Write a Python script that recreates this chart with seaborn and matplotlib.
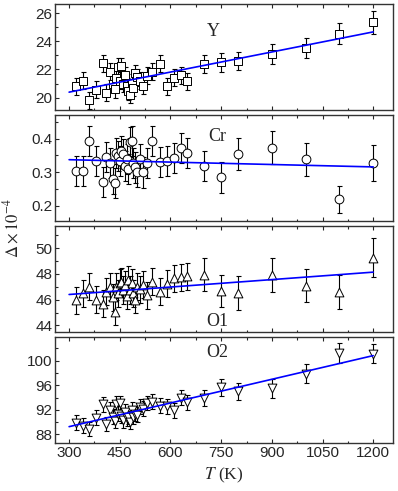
import matplotlib
matplotlib.use("Agg")
import matplotlib.pyplot as plt
import numpy as np
import seaborn as sns
from matplotlib.ticker import MultipleLocator

# temperatures (K), shared by all four panels
temp = [320, 340, 360, 380, 400, 410, 420, 430, 435, 440, 445, 450, 455, 460,
        465, 470, 475, 480, 485, 490, 495, 500, 510, 520, 530, 545, 570, 590,
        610, 630, 650, 700, 750, 800, 900, 1000, 1100, 1200]

y_vals = [20.8, 21.2, 19.8, 20.55, 22.45, 20.35, 21.85, 21.0, 20.6, 21.4,
          22.2, 21.2, 22.25, 21.0, 21.6, 20.8, 20.45, 20.2, 21.05, 20.7,
          21.75, 21.45, 21.2, 20.85, 21.55, 21.85, 22.4, 20.8, 21.4, 21.6,
          21.15, 22.4, 22.5, 22.6, 23.1, 23.55, 24.55, 25.35]
y_err = [0.6] * 31 + [0.65, 0.65, 0.65, 0.7, 0.7, 0.75, 0.8]

cr_vals = [0.304, 0.304, 0.392, 0.334, 0.270, 0.346, 0.328, 0.279, 0.268,
           0.358, 0.348, 0.333, 0.363, 0.353, 0.318, 0.338, 0.309, 0.389,
           0.392, 0.328, 0.314, 0.300, 0.338, 0.299, 0.328, 0.392, 0.330,
           0.333, 0.343, 0.373, 0.358, 0.318, 0.284, 0.353, 0.373, 0.338,
           0.219, 0.328]
cr_err = [0.045] * 31 + [0.045, 0.045, 0.048, 0.05, 0.05, 0.04, 0.054]

o1_vals = [45.95, 46.5, 47.0, 46.0, 45.7, 46.6, 47.0, 46.2, 45.05, 47.0,
           46.5, 47.3, 47.4, 46.75, 47.15, 46.3, 47.55, 46.75, 47.3, 46.5,
           46.0, 47.0, 46.8, 47.15, 46.35, 47.4, 46.6, 47.25, 47.65, 47.75,
           47.8, 47.95, 46.65, 46.5, 47.9, 47.1, 46.6, 49.25]
o1_err = [1.05] * 31 + [1.25, 1.25, 1.3, 1.3, 1.3, 1.3, 1.5]

o2_vals = [89.9, 89.4, 88.9, 90.7, 92.9, 89.7, 92.0, 90.9, 90.2, 93.0,
           91.4, 93.1, 91.0, 90.3, 91.7, 90.6, 90.9, 90.05, 92.0, 90.9,
           91.4, 91.2, 92.5, 92.2, 93.1, 93.3, 92.7, 92.6, 91.9, 94.0,
           93.2, 93.9, 95.7, 95.0, 95.5, 97.9, 101.25, 101.15]
o2_err = [1.2] * 31 + [1.3, 1.4, 1.4, 1.5, 1.5, 1.6, 1.6]

labels = ["Y", "Cr", "O1", "O2"]
markers = ["s", "o", "^", "v"]
series = [(y_vals, y_err), (cr_vals, cr_err), (o1_vals, o1_err), (o2_vals, o2_err)]
ylims = [(19.15, 26.65), (0.155, 0.47), (43.5, 51.7), (86.6, 103.8)]
ymajor = [2, 0.1, 2, 4]
label_pos = [(0.47, 0.74), (0.48, 0.80), (0.48, 0.10), (0.48, 0.86)]

sns.set_style("ticks")
plt.rcParams["font.family"] = ["Liberation Sans", "DejaVu Sans"]
plt.rcParams["mathtext.fontset"] = "stix"

fig, axes = plt.subplots(4, 1, figsize=(3.98, 4.91), dpi=100, sharex=True)
fig.subplots_adjust(left=0.138, right=0.987, top=1 - 4 / 491,
                    bottom=1 - 443 / 491, hspace=0.052)

t = np.array(temp)
fit_x = np.array([300, 1200])

for ax, (vals, err), mk, lab, yl, ym, lp in zip(axes, series, markers, labels,
                                               ylims, ymajor, label_pos):
    v = np.array(vals)
    ax.errorbar(t, v, yerr=err, fmt="none", ecolor="black", elinewidth=0.8,
                capsize=1.8, capthick=0.8, zorder=2)
    sns.scatterplot(x=t, y=v, marker=mk, s=40, facecolor="white",
                    edgecolor="black", linewidth=0.7, ax=ax, zorder=3)
    k, b = np.polyfit(t, v, 1)
    sns.lineplot(x=fit_x, y=k * fit_x + b, color="#0000ff", linewidth=1.2,
                 ax=ax, zorder=4)
    ax.set_ylim(*yl)
    ax.set_xlim(258, 1258)
    ax.yaxis.set_major_locator(MultipleLocator(ym))
    ax.yaxis.set_minor_locator(MultipleLocator(ym / 2))
    ax.xaxis.set_major_locator(MultipleLocator(150))
    ax.xaxis.set_minor_locator(MultipleLocator(75))
    ax.tick_params(which="both", direction="in", top=True, labelsize=11,
                   length=3, width=0.8, pad=2)
    ax.tick_params(which="minor", length=1.8)
    for sp in ax.spines.values():
        sp.set_color("#333333")
        sp.set_linewidth(1.0)
    ax.text(lp[0], lp[1], lab, transform=ax.transAxes, ha="center",
            va="center", fontsize=13, family="Liberation Serif")
    ax.set_ylabel("")

axes[-1].set_xticks([300, 450, 600, 750, 900, 1050, 1200])
axes[-1].set_xlabel(r"$T$ (K)", family="Liberation Serif", fontsize=12.5,
                    labelpad=4)
fig.text(0.028, 1 - 228 / 491, r"$\Delta\times10^{-4}$", rotation=90,
         ha="center", va="center", fontsize=12)

fig.savefig("out.png", dpi=100)
